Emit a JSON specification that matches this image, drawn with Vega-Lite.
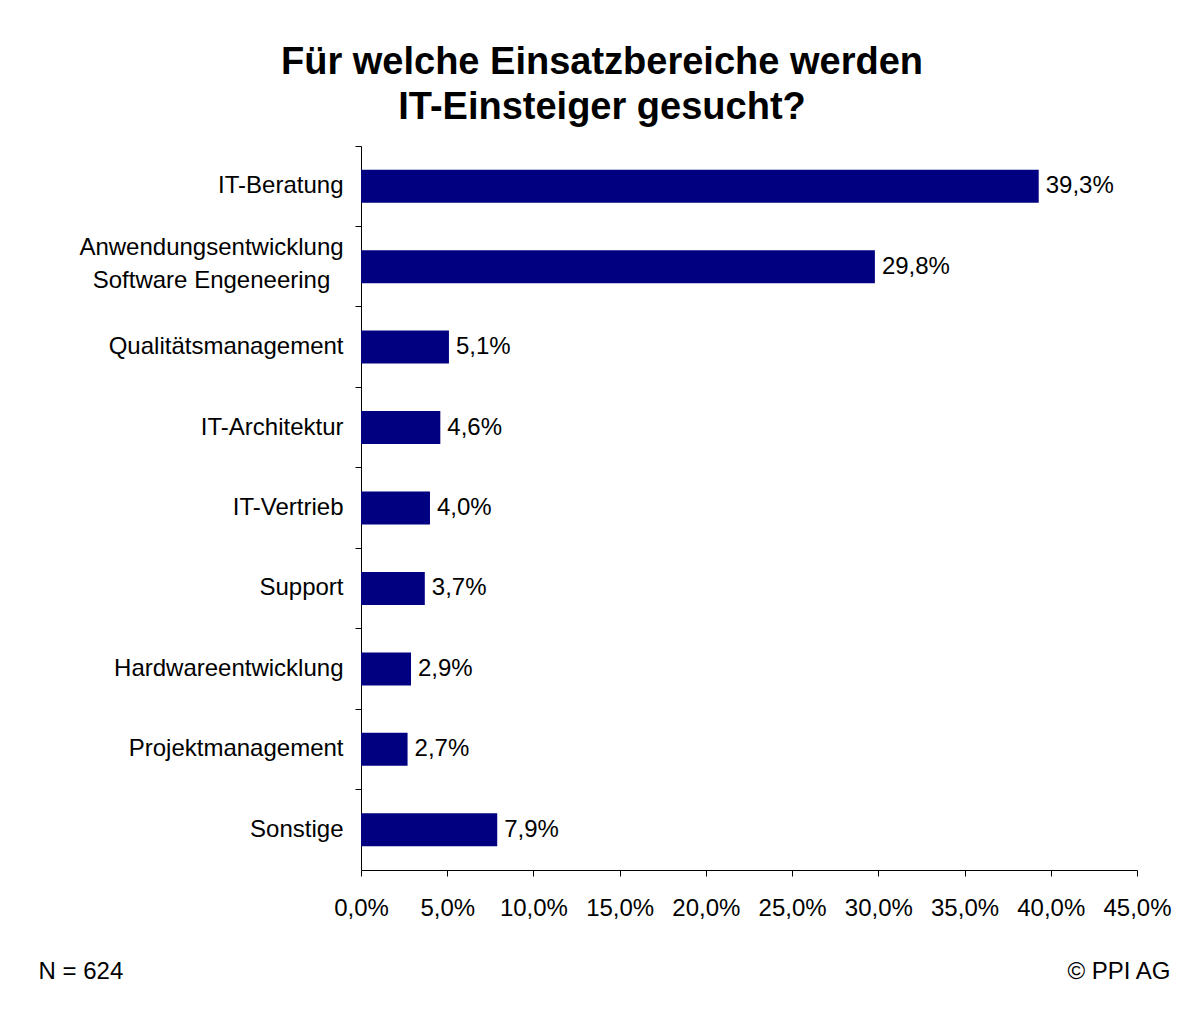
{
  "$schema": "https://vega.github.io/schema/vega-lite/v6.json",
  "width": 776,
  "height": 724,
  "autosize": {"type": "none"},
  "padding": {"left": 361, "top": 146, "right": 53, "bottom": 139},
  "background": "white",
  "title": {
    "text": ["Für welche Einsatzbereiche werden", "IT-Einsteiger gesucht?"],
    "fontSize": 38,
    "font": "Liberation Sans",
    "fontWeight": "bold",
    "color": "#000",
    "anchor": "middle",
    "dx": -147,
    "offset": 19,
    "lineHeight": 45
  },
  "data": {
    "values": [
      {"bereich": "IT-Beratung", "anteil": 39.3},
      {"bereich": "Anwendungsentwicklung|Software Engeneering", "anteil": 29.8},
      {"bereich": "Qualitätsmanagement", "anteil": 5.1},
      {"bereich": "IT-Architektur", "anteil": 4.6},
      {"bereich": "IT-Vertrieb", "anteil": 4.0},
      {"bereich": "Support", "anteil": 3.7},
      {"bereich": "Hardwareentwicklung", "anteil": 2.9},
      {"bereich": "Projektmanagement", "anteil": 2.7},
      {"bereich": "Sonstige", "anteil": 7.9}
    ]
  },
  "transform": [
    {"calculate": "replace(format(datum.anteil, '.1f'), '.', ',') + '%'", "as": "label"}
  ],
  "layer": [
    {
      "mark": {"type": "bar", "color": "#000080", "height": {"band": 0.41}},
      "encoding": {
        "y": {
          "field": "bereich",
          "type": "nominal",
          "sort": null,
          "scale": {"paddingInner": 0, "paddingOuter": 0},
          "axis": {
            "orient": "left",
            "title": null,
            "ticks": false,
            "tickSize": 0,
            "domain": false,
            "labelPadding": {"condition": {"test": "indexof(datum.value, '|') >= 0", "value": 150}, "value": 18},
            "labelLimit": 0,
            "labelExpr": "split(datum.label, '|')",
            "labelLineHeight": 33,
            "labelOffset": {"condition": {"test": "indexof(datum.value, '|') >= 0", "value": -19}, "value": 0},
            "labelFontSize": 24,
            "labelFont": "Liberation Sans",
            "labelColor": "#000",
            "labelAlign": {"condition": {"test": "indexof(datum.value, '|') >= 0", "value": "center"}, "value": "right"}
          }
        },
        "x": {
          "field": "anteil",
          "type": "quantitative",
          "scale": {"domain": [0, 45], "nice": false},
          "axis": {
            "values": [0, 5, 10, 15, 20, 25, 30, 35, 40, 45],
            "labelExpr": "replace(format(datum.value, '.1f'), '.', ',') + '%'",
            "grid": false,
            "domainColor": "#000",
            "tickColor": "#000",
            "tickSize": 6,
            "labelPadding": 20,
            "labelAlign": "center",
            "labelFlush": false,
            "labelFontSize": 24,
            "labelFont": "Liberation Sans",
            "labelColor": "#000",
            "labelOverlap": false,
            "title": "N = 624",
            "titleX": -323,
            "titleY": 108,
            "titleAlign": "left",
            "titleAnchor": null,
            "titleBaseline": "alphabetic",
            "titleFontSize": 24,
            "titleFontWeight": "normal",
            "titleFont": "Liberation Sans",
            "titleColor": "#000"
          }
        }
      }
    },
    {
      "mark": {"type": "text", "align": "left", "baseline": "middle", "dx": 7, "fontSize": 24, "font": "Liberation Sans", "color": "#000"},
      "encoding": {
        "y": {
          "field": "bereich",
          "type": "nominal",
          "sort": null,
          "axis": {
            "orient": "left",
            "labels": false,
            "bandPosition": 0,
            "ticks": true,
            "tickSize": 6,
            "tickColor": "#000",
            "domain": true,
            "domainColor": "#000",
            "title": "© PPI AG",
            "titleAngle": 0,
            "titleX": 809,
            "titleY": 832,
            "titleAlign": "right",
            "titleAnchor": null,
            "titleBaseline": "alphabetic",
            "titleFontSize": 24,
            "titleFontWeight": "normal",
            "titleFont": "Liberation Sans",
            "titleColor": "#000"
          }
        },
        "x": {"field": "anteil", "type": "quantitative"},
        "text": {"field": "label"}
      }
    }
  ],
  "resolve": {"axis": {"y": "independent"}},
  "config": {"view": {"stroke": null}}
}
